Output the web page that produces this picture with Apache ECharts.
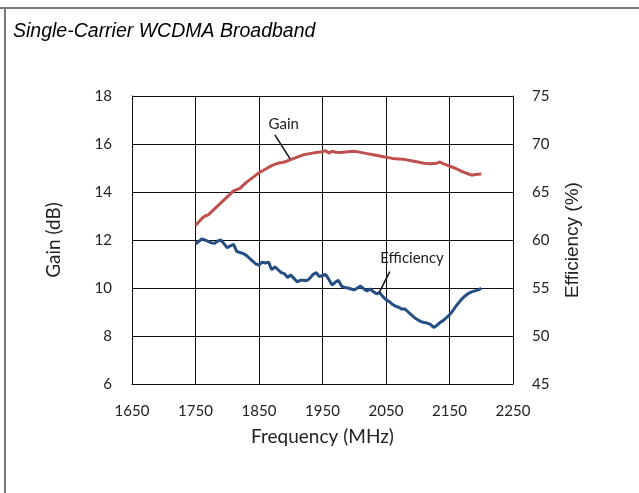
<!DOCTYPE html>
<html>
<head>
<meta charset="utf-8">
<script src="https://cdn.jsdelivr.net/npm/echarts@6/dist/echarts.min.js"></script>
<style>
  html, body { margin: 0; padding: 0; background: #fff; }
  #chart { width: 639px; height: 493px; }
</style>
</head>
<body>
<div id="chart"></div>
<script>
// frequency (MHz), gain (dB)
const gainFreq = [1750, 1755, 1760, 1765, 1770, 1780, 1790, 1800, 1810, 1820, 1830, 1840, 1850, 1860, 1870, 1880, 1890, 1900, 1910, 1920, 1930, 1940, 1950, 1955, 1960, 1965, 1970, 1980, 1990, 2000, 2010, 2020, 2030, 2040, 2050, 2060, 2070, 2080, 2090, 2100, 2110, 2120, 2130, 2135, 2140, 2150, 2160, 2170, 2180, 2185, 2190, 2200];
const gainValues = [12.6, 12.75, 12.9, 13.0, 13.05, 13.3, 13.55, 13.8, 14.05, 14.15, 14.4, 14.6, 14.8, 14.95, 15.1, 15.2, 15.25, 15.35, 15.45, 15.55, 15.6, 15.65, 15.68, 15.72, 15.62, 15.7, 15.66, 15.65, 15.68, 15.7, 15.65, 15.6, 15.55, 15.5, 15.45, 15.4, 15.38, 15.35, 15.3, 15.25, 15.2, 15.18, 15.2, 15.25, 15.18, 15.08, 14.98, 14.85, 14.75, 14.7, 14.73, 14.75];

// frequency (MHz), efficiency (%)
const effFreq = [1750, 1755, 1760, 1765, 1770, 1775, 1780, 1785, 1790, 1795, 1800, 1805, 1810, 1815, 1820, 1825, 1830, 1835, 1840, 1845, 1850, 1855, 1860, 1865, 1870, 1875, 1880, 1885, 1890, 1895, 1900, 1905, 1910, 1915, 1920, 1925, 1930, 1935, 1940, 1945, 1950, 1955, 1960, 1965, 1970, 1975, 1980, 1985, 1990, 1995, 2000, 2005, 2010, 2015, 2020, 2025, 2030, 2035, 2040, 2045, 2050, 2055, 2060, 2065, 2070, 2075, 2080, 2085, 2090, 2095, 2100, 2105, 2110, 2115, 2120, 2125, 2130, 2135, 2140, 2145, 2150, 2155, 2160, 2165, 2170, 2175, 2180, 2185, 2190, 2195, 2200];
const effValues = [59.6, 59.85, 60.1, 60.0, 59.85, 59.7, 59.65, 59.9, 60.0, 59.6, 59.2, 59.4, 59.55, 58.8, 58.7, 58.6, 58.4, 58.1, 57.8, 57.5, 57.4, 57.7, 57.6, 57.7, 56.9, 57.2, 56.9, 56.6, 56.5, 56.1, 56.35, 56.0, 55.65, 55.8, 55.8, 55.75, 56.0, 56.4, 56.6, 56.2, 56.3, 56.4, 55.9, 55.3, 55.6, 55.8, 55.2, 55.05, 55.0, 54.9, 54.8, 55.0, 55.2, 54.9, 54.7, 54.9, 54.6, 54.4, 54.5, 54.1, 53.8, 53.6, 53.3, 53.1, 53.0, 52.8, 52.8, 52.5, 52.2, 51.9, 51.7, 51.5, 51.4, 51.35, 51.2, 50.9, 51.1, 51.4, 51.6, 51.9, 52.2, 52.6, 53.1, 53.5, 53.9, 54.2, 54.45, 54.6, 54.7, 54.8, 54.95];

// callout labels: [freq, value] for text, leader line start/end
const gainLabel = { text: 'Gain', at: [1889, 16.83], line: [[1875, 16.38], [1899, 15.38]] };
const effLabel = { text: 'Efficiency', at: [2091, 58.1], line: [[2056, 56.7], [2039, 54.5]] };

const chart = echarts.init(document.getElementById('chart'));

const tickFont = { fontFamily: 'Lato', fontSize: 15, color: '#222' };

const callout = (lbl) => ({
  markPoint: {
    symbol: 'circle',
    symbolSize: 0,
    silent: true,
    label: {
      show: true,
      formatter: lbl.text,
      fontFamily: 'Lato',
      fontSize: 15,
      color: '#222',
    },
    data: [{ coord: lbl.at }],
  },
  markLine: {
    silent: true,
    symbol: 'none',
    label: { show: false },
    lineStyle: { color: '#111', width: 1.5, type: 'solid' },
    data: [[{ coord: lbl.line[0] }, { coord: lbl.line[1] }]],
  },
});

const option = {
  animation: false,
  backgroundColor: '#fff',
  grid: { left: 132, right: 126, top: 96, bottom: 109 },
  graphic: [
    { type: 'line', shape: { x1: 0, y1: 8, x2: 639, y2: 8 }, style: { stroke: '#777', lineWidth: 2 } },
    { type: 'line', shape: { x1: 5, y1: 8, x2: 5, y2: 493 }, style: { stroke: '#777', lineWidth: 2 } },
    {
      type: 'text', left: 13, top: 22,
      style: { text: 'Single-Carrier WCDMA Broadband', fontFamily: 'Liberation Sans', fontStyle: 'italic', fontSize: 19.5, fill: '#000' },
    },
  ],
  xAxis: {
    type: 'value',
    min: 1650,
    max: 2250,
    interval: 100,
    name: 'Frequency (MHz)',
    nameLocation: 'middle',
    nameGap: 43,
    nameTextStyle: { fontFamily: 'Lato', fontSize: 19, color: '#222' },
    axisLine: { show: true, lineStyle: { color: '#111', width: 1 } },
    axisTick: { show: false },
    axisLabel: Object.assign({ margin: 20, formatter: (v) => String(v) }, tickFont),
    splitLine: { show: true, lineStyle: { color: '#111', width: 1 } },
  },
  yAxis: [
    {
      type: 'value',
      min: 6,
      max: 18,
      interval: 2,
      name: 'Gain (dB)',
      nameLocation: 'middle',
      nameGap: 69,
      nameTextStyle: { fontFamily: 'Lato', fontSize: 19, color: '#222' },
      axisLine: { show: true, lineStyle: { color: '#111', width: 1 } },
      axisTick: { show: false },
      axisLabel: Object.assign({ margin: 20 }, tickFont),
      splitLine: { show: true, lineStyle: { color: '#111', width: 1 } },
    },
    {
      type: 'value',
      position: 'right',
      min: 45,
      max: 75,
      interval: 5,
      name: 'Efficiency (%)',
      nameLocation: 'middle',
      nameGap: 50,
      nameTextStyle: { fontFamily: 'Liberation Sans', fontSize: 19, color: '#222' },
      axisLine: { show: true, lineStyle: { color: '#111', width: 1 } },
      axisTick: { show: false },
      axisLabel: Object.assign({ margin: 19 }, tickFont),
      splitLine: { show: false },
    },
  ],
  series: [
    Object.assign({
      name: 'Gain',
      type: 'line',
      yAxisIndex: 0,
      showSymbol: false,
      data: gainFreq.map((f, i) => [f, gainValues[i]]),
      lineStyle: { color: '#c0504d', width: 3 },
      itemStyle: { color: '#c0504d' },
    }, callout(gainLabel)),
    Object.assign({
      name: 'Efficiency',
      type: 'line',
      yAxisIndex: 1,
      showSymbol: false,
      data: effFreq.map((f, i) => [f, effValues[i]]),
      lineStyle: { color: '#254f84', width: 3 },
      itemStyle: { color: '#254f84' },
    }, callout(effLabel)),
  ],
};

chart.setOption(option);
</script>
</body>
</html>
